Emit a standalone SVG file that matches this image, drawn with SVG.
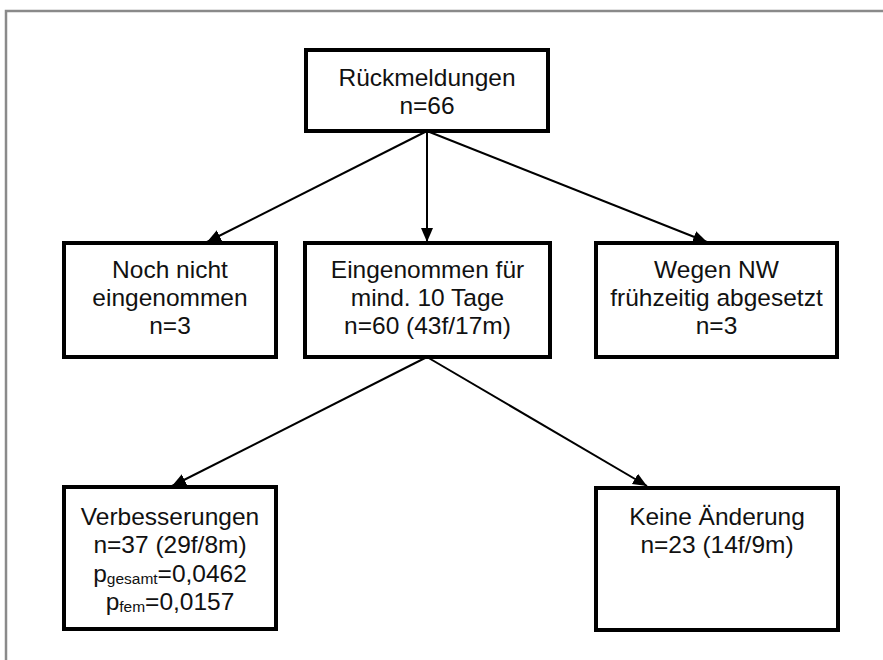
<svg xmlns="http://www.w3.org/2000/svg" width="883" height="660" viewBox="0 0 883 660">
<style>
.box{fill:#fff;stroke:#000;stroke-width:4}
.t{font-family:"Liberation Sans",Arial,Helvetica,sans-serif;font-size:24.5px;fill:#111;text-anchor:middle}
.sub{font-size:15.5px}
.c{stroke:#000;stroke-width:2;fill:none;marker-end:url(#ah)}
</style>
<defs>
<marker id="ah" markerUnits="userSpaceOnUse" markerWidth="16" markerHeight="14" refX="14" refY="6" orient="auto">
<path d="M0,0 L14,6 L0,12 Z" fill="#000"/>
</marker>
</defs>
<rect x="0" y="0" width="883" height="660" fill="#fff"/>
<path d="M6,660 V11 H883" fill="none" stroke="#8a8a8a" stroke-width="2.5"/>
<g id="connectors">
<path class="c" d="M427,131 L207,242"/>
<path class="c" d="M427,131 L427,242"/>
<path class="c" d="M427,131 L707,242"/>
<path class="c" d="M427,357 L172,486"/>
<path class="c" d="M427,357 L647,486"/>
</g>
<g id="rueckmeldungen">
<rect class="box" x="306" y="50" width="242" height="81"/>
<text class="t" x="427" y="86">Rückmeldungen</text>
<text class="t" x="427" y="114">n=66</text>
</g>
<g id="noch-nicht">
<rect class="box" x="64" y="243" width="212" height="114"/>
<text class="t" x="170" y="278">Noch nicht</text>
<text class="t" x="170" y="306">eingenommen</text>
<text class="t" x="170" y="334">n=3</text>
</g>
<g id="eingenommen">
<rect class="box" x="305" y="243" width="245" height="114"/>
<text class="t" x="427.5" y="278">Eingenommen für</text>
<text class="t" x="427.5" y="306">mind. 10 Tage</text>
<text class="t" x="427.5" y="334">n=60 (43f/17m)</text>
</g>
<g id="wegen-nw">
<rect class="box" x="596" y="243" width="241" height="114"/>
<text class="t" x="716.5" y="278">Wegen NW</text>
<text class="t" x="716.5" y="306">frühzeitig abgesetzt</text>
<text class="t" x="716.5" y="334">n=3</text>
</g>
<g id="verbesserungen">
<rect class="box" x="64" y="487" width="212" height="142"/>
<text class="t" x="170" y="525">Verbesserungen</text>
<text class="t" x="170" y="553">n=37 (29f/8m)</text>
<text class="t" x="170" y="582">p<tspan class="sub" dy="2">gesamt</tspan><tspan dy="-2">=0,0462</tspan></text>
<text class="t" x="170" y="610">p<tspan class="sub" dy="2">fem</tspan><tspan dy="-2">=0,0157</tspan></text>
</g>
<g id="keine-aenderung">
<rect class="box" x="596" y="488" width="242" height="142"/>
<text class="t" x="717" y="525">Keine Änderung</text>
<text class="t" x="717" y="553">n=23 (14f/9m)</text>
</g>
</svg>
